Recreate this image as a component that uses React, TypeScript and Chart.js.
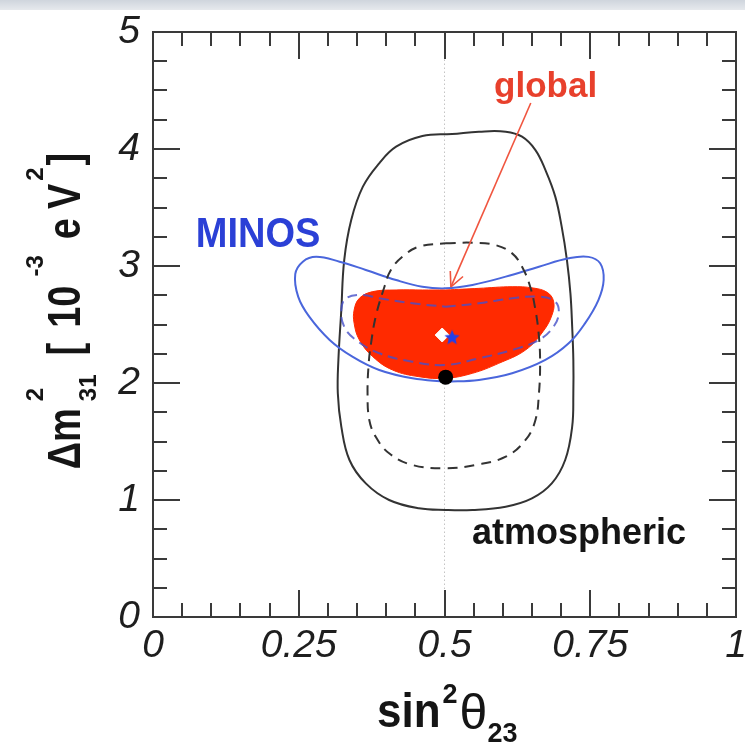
import { useEffect, useRef } from 'react';
import { Chart, registerables } from 'chart.js';

Chart.register(...registerables);

const FONT = '"Liberation Sans", Arial, Helvetica, sans-serif';

// ---- axis ticks ----
const xTickValues = [0, 0.25, 0.5, 0.75, 1];
const xTickLabels = ['0', '0.25', '0.5', '0.75', '1'];
const yTickValues = [0, 1, 2, 3, 4, 5];
const yTickLabels = ['0', '1', '2', '3', '4', '5'];
const xMinorTicks = [0.05, 0.1, 0.15, 0.2, 0.3, 0.35, 0.4, 0.45, 0.55, 0.6, 0.65, 0.7, 0.8, 0.85, 0.9, 0.95];
const yMinorTicks = [0.25, 0.5, 0.75, 1.25, 1.5, 1.75, 2.25, 2.5, 2.75, 3.25, 3.5, 3.75, 4.25, 4.5, 4.75];

// ---- contours (sin^2 theta23, dm2_31 [1e-3 eV^2]) ----
const atmosphericOuter = [
  [0.323, 2.624], [0.328, 3.051], [0.340, 3.393], [0.360, 3.678], [0.388, 3.878], [0.417, 4.020],
  [0.462, 4.111], [0.513, 4.128], [0.559, 4.148], [0.605, 4.148], [0.633, 4.105], [0.656, 3.991],
  [0.673, 3.821], [0.690, 3.593], [0.701, 3.336], [0.710, 3.051], [0.716, 2.766], [0.719, 2.481],
  [0.721, 2.197], [0.721, 1.912], [0.719, 1.627], [0.707, 1.342], [0.684, 1.142], [0.650, 1.014],
  [0.605, 0.943], [0.548, 0.915], [0.502, 0.915], [0.456, 0.929], [0.405, 1.000], [0.365, 1.142],
  [0.337, 1.342], [0.323, 1.627], [0.317, 1.912], [0.318, 2.197], [0.323, 2.624],
];
const atmosphericInner = [
  [0.502, 3.194], [0.548, 3.199], [0.587, 3.179], [0.616, 3.108], [0.633, 2.994], [0.647, 2.823],
  [0.656, 2.624], [0.662, 2.396], [0.664, 2.168], [0.662, 1.912], [0.656, 1.684], [0.639, 1.513],
  [0.605, 1.370], [0.553, 1.299], [0.502, 1.271], [0.445, 1.299], [0.405, 1.399], [0.382, 1.541],
  [0.371, 1.684], [0.368, 1.912], [0.370, 2.168], [0.374, 2.339], [0.382, 2.567], [0.397, 2.823],
  [0.408, 2.966], [0.428, 3.080], [0.456, 3.165], [0.502, 3.194],
];
const minosOuter = [
  [0.502, 2.011], [0.445, 2.040], [0.388, 2.111], [0.342, 2.225], [0.303, 2.368], [0.268, 2.567],
  [0.249, 2.738], [0.244, 2.930], [0.257, 3.037], [0.280, 3.078], [0.320, 3.037], [0.365, 2.966],
  [0.417, 2.880], [0.462, 2.823], [0.502, 2.809], [0.548, 2.838], [0.605, 2.909], [0.662, 2.994],
  [0.713, 3.066], [0.747, 3.078], [0.767, 3.023], [0.773, 2.880], [0.764, 2.709], [0.741, 2.510],
  [0.713, 2.339], [0.673, 2.197], [0.616, 2.083], [0.559, 2.026], [0.502, 2.011],
];
const minosInner = [
  [0.502, 2.652], [0.559, 2.681], [0.616, 2.724], [0.662, 2.738], [0.690, 2.695], [0.696, 2.596],
  [0.687, 2.481], [0.662, 2.368], [0.616, 2.282], [0.559, 2.211], [0.502, 2.154], [0.445, 2.182],
  [0.388, 2.254], [0.348, 2.368], [0.328, 2.481], [0.323, 2.624], [0.331, 2.724], [0.360, 2.752],
  [0.388, 2.724], [0.445, 2.681], [0.502, 2.652],
];
const globalRegion = [
  [0.502, 2.795], [0.559, 2.809], [0.616, 2.823], [0.652, 2.812], [0.676, 2.775], [0.687, 2.700],
  [0.685, 2.590], [0.669, 2.440], [0.639, 2.282], [0.593, 2.168], [0.548, 2.083], [0.502, 2.040],
  [0.456, 2.054], [0.411, 2.111], [0.377, 2.225], [0.354, 2.368], [0.345, 2.510], [0.345, 2.624],
  [0.354, 2.724], [0.377, 2.781], [0.417, 2.795], [0.462, 2.795], [0.502, 2.795],
];
const maximalMixingLine = [[0.5, 0], [0.5, 5]];
const arrowLine = [[0.648, 4.393], [0.511, 2.821]];
const atmBestFit = [[0.502, 2.05]];
const globalBestFit = [[0.496, 2.41]];
const minosBestFit = [[0.513, 2.39]];

const labelTexts = ['global', 'MINOS', 'atmospheric'];
const labelAnchors = [[0.585, 4.444], [0.0735, 3.165], [0.547, 0.624]];

const toPts = (a: number[][]) => a.map(([x, y]) => ({ x, y }));

function makeStar(size: number, color: string) {
  const c = document.createElement('canvas');
  c.width = size;
  c.height = size;
  const g = c.getContext('2d')!;
  const cx = size / 2, cy = size / 2 + 0.5, R = size / 2, r = R * 0.45;
  g.beginPath();
  for (let i = 0; i < 10; i++) {
    const rad = i % 2 === 0 ? R : r;
    const a = -Math.PI / 2 + (i * Math.PI) / 5;
    const px = cx + rad * Math.cos(a), py = cy + rad * Math.sin(a);
    if (i === 0) g.moveTo(px, py); else g.lineTo(px, py);
  }
  g.closePath();
  g.fillStyle = color;
  g.fill();
  return c;
}

type Seg = { t: string; font: string; dy: number; gap?: number; sy?: number; stackWith?: { t: string; font: string; dy: number } };

function drawRich(ctx: CanvasRenderingContext2D, segs: Seg[], center: boolean) {
  let total = 0;
  const widths: number[] = [];
  for (const s of segs) {
    ctx.font = s.font;
    let w = ctx.measureText(s.t).width;
    if (s.stackWith) {
      ctx.font = s.stackWith.font;
      w = Math.max(w, ctx.measureText(s.stackWith.t).width);
    }
    widths.push(w);
    total += w + (s.gap || 0);
  }
  let x = center ? -total / 2 : 0;
  segs.forEach((s, i) => {
    x += s.gap || 0;
    ctx.save();
    ctx.translate(x, s.dy);
    ctx.scale(1, s.sy || 1);
    ctx.font = s.font;
    ctx.fillText(s.t, 0, 0);
    ctx.restore();
    if (s.stackWith) {
      ctx.font = s.stackWith.font;
      ctx.fillText(s.stackWith.t, x, s.stackWith.dy);
    }
    x += widths[i];
  });
}

const framePlugin = {
  id: 'framePlugin',
  beforeDraw(chart: any) {
    const ctx = chart.ctx;
    ctx.save();
    const grad = ctx.createLinearGradient(0, 0, 0, 10);
    grad.addColorStop(0, '#cfd5dd');
    grad.addColorStop(1, '#e6e9ed');
    ctx.fillStyle = grad;
    ctx.fillRect(0, 0, chart.width, 10);
    ctx.restore();
  },
  afterDatasetsDraw(chart: any) {
    const meta = chart.getDatasetMeta(chart.data.datasets.findIndex((d: any) => d.label === 'arrow'));
    const p0 = meta.data[0], p1 = meta.data[1];
    const ctx = chart.ctx;
    const ang = Math.atan2(p1.y - p0.y, p1.x - p0.x);
    ctx.save();
    ctx.strokeStyle = '#f0553f';
    ctx.lineWidth = 1.6;
    ctx.beginPath();
    for (const s of [-0.45, 0.45]) {
      ctx.moveTo(p1.x, p1.y);
      ctx.lineTo(p1.x - 16 * Math.cos(ang + s), p1.y - 16 * Math.sin(ang + s));
    }
    ctx.stroke();
    ctx.restore();
  },
  afterDraw(chart: any) {
    const ctx = chart.ctx;
    const { left, right, top, bottom } = chart.chartArea;
    const xs = chart.scales.x, ys = chart.scales.y;
    ctx.save();
    ctx.strokeStyle = '#3a3a3a';
    ctx.lineWidth = 2;
    ctx.strokeRect(left, top, right - left, bottom - top);
    ctx.beginPath();
    const xt = (v: number, len: number) => {
      const p = Math.round(xs.getPixelForValue(v));
      ctx.moveTo(p, bottom); ctx.lineTo(p, bottom - len);
      ctx.moveTo(p, top); ctx.lineTo(p, top + len);
    };
    const yt = (v: number, len: number) => {
      const p = Math.round(ys.getPixelForValue(v));
      ctx.moveTo(left, p); ctx.lineTo(left + len, p);
      ctx.moveTo(right, p); ctx.lineTo(right - len, p);
    };
    xTickValues.forEach((v) => xt(v, 27));
    xMinorTicks.forEach((v) => xt(v, 14));
    yTickValues.forEach((v) => yt(v, 27));
    yMinorTicks.forEach((v) => yt(v, 14));
    ctx.stroke();

    // in-plot labels
    const colors = ['#e8402c', '#2b40d6', '#151515'];
    const sizes = [35, 38, 36];
    const stretch = [1, 1.1, 1];
    ctx.textBaseline = 'alphabetic';
    ctx.textAlign = 'left';
    labelTexts.forEach((t, i) => {
      ctx.save();
      ctx.fillStyle = colors[i];
      ctx.font = `bold ${sizes[i]}px ${FONT}`;
      ctx.translate(xs.getPixelForValue(labelAnchors[i][0]), ys.getPixelForValue(labelAnchors[i][1]));
      ctx.scale(1, stretch[i]);
      ctx.fillText(t, 0, 0);
      ctx.restore();
    });

    // x axis title: sin^2 theta_23
    ctx.fillStyle = '#151515';
    ctx.save();
    ctx.translate(377, 727);
    drawRich(ctx, [
      { t: 'sin', font: `bold 44px ${FONT}`, dy: 0, sy: 1.08 },
      { t: '2', font: `bold 27px ${FONT}`, dy: -24, gap: 2 },
      { t: 'θ', font: `normal 50px ${FONT}`, dy: 2, gap: 2 },
      { t: '23', font: `bold 27px ${FONT}`, dy: 15, gap: 0 },
    ], false);
    ctx.restore();

    // y axis title: Δm^2_31 [ 10^-3 eV^2]
    const main = `bold 38px ${FONT}`;
    const scr = `bold 24px ${FONT}`;
    ctx.save();
    ctx.translate(80, 311);
    ctx.rotate(-Math.PI / 2);
    drawRich(ctx, [
      { t: 'Δm', font: main, dy: 0, sy: 1.2 },
      { t: '2', font: scr, dy: -37, gap: 7, stackWith: { t: '31', font: scr, dy: 16 } },
      { t: '[', font: main, dy: 0, gap: 19, sy: 1.2 },
      { t: '10', font: main, dy: 0, gap: 15, sy: 1.2 },
      { t: '-3', font: scr, dy: -37, gap: 9 },
      { t: 'e', font: main, dy: 0, gap: 16, sy: 1.2 },
      { t: 'V', font: main, dy: 0, gap: 9, sy: 1.2 },
      { t: '2', font: scr, dy: -37, gap: 3 },
      { t: ']', font: main, dy: 0, gap: 2, sy: 1.2 },
    ], true);
    ctx.restore();
    ctx.restore();
  },
};

export default function App() {
  const ref = useRef<HTMLCanvasElement>(null);
  useEffect(() => {
    document.body.style.margin = '0';
    const canvas = ref.current!;
    const starBlue = makeStar(16, '#2340e8');
    const line = (label: string, pts: number[][], color: string, dash: number[] | undefined) => ({
      label,
      data: toPts(pts),
      showLine: true,
      borderColor: color,
      borderWidth: 2,
      borderDash: dash || [],
      pointRadius: 0,
      tension: 0.4,
      fill: false,
    });
    const layers: any[] = [
      { label: 'maxmix', data: toPts(maximalMixingLine), showLine: true, borderColor: '#c4c4c4', borderWidth: 1, borderDash: [1.5, 2.5], pointRadius: 0, fill: false },
      line('atm-outer', atmosphericOuter, '#333333', undefined),
      line('minos-outer', minosOuter, '#4a66dc', undefined),
      { label: 'global', data: toPts(globalRegion), showLine: true, borderColor: '#ff2a00', backgroundColor: '#ff2a00', borderWidth: 1, pointRadius: 0, tension: 0.4, fill: 'shape' },
      line('atm-inner', atmosphericInner, '#333333', [10, 7]),
      line('minos-inner', minosInner, 'rgba(70,80,200,0.8)', [10, 6]),
      { label: 'arrow', data: toPts(arrowLine), showLine: true, borderColor: '#f0553f', borderWidth: 1.6, pointRadius: 0, fill: false },
      { label: 'atm-bf', data: toPts(atmBestFit), showLine: false, pointRadius: 7.5, pointStyle: 'circle', backgroundColor: '#000', borderColor: '#000', borderWidth: 0 },
      { label: 'global-bf', data: toPts(globalBestFit), showLine: false, pointRadius: 7, pointStyle: 'rectRot', backgroundColor: '#ffffff', borderColor: '#ffffff', borderWidth: 1 },
      { label: 'minos-bf', data: toPts(minosBestFit), showLine: false, pointStyle: starBlue, pointRadius: 8 },
    ];
    const n = layers.length;
    layers.forEach((d, i) => { d.order = n - i; });

    const tickFont = { family: FONT, size: 39, style: 'italic' as const, weight: 'normal' as const };
    const chart = new Chart(canvas, {
      type: 'scatter',
      data: { datasets: layers },
      options: {
        animation: false,
        responsive: false,
        maintainAspectRatio: false,
        events: [],
        layout: { padding: { top: 32, right: 7, left: 0, bottom: 0 } },
        plugins: { legend: { display: false }, tooltip: { enabled: false } },
        scales: {
          x: {
            type: 'linear', min: 0, max: 1,
            grid: { display: false, drawTicks: false },
            border: { display: false },
            ticks: {
              stepSize: 0.25, autoSkip: false, maxRotation: 0, padding: 6, font: tickFont, color: '#1e1e1e',
              callback: (v: any) => { const i = xTickValues.findIndex((t) => Math.abs(t - Number(v)) < 1e-6); return i >= 0 ? xTickLabels[i] : ''; },
            },
            afterFit: (s: any) => { s.height = 128; s.paddingLeft = 0; s.paddingRight = 0; },
          },
          y: {
            type: 'linear', min: 0, max: 5,
            grid: { display: false, drawTicks: false },
            border: { display: false },
            ticks: {
              stepSize: 1, autoSkip: false, padding: 13, font: tickFont, color: '#1e1e1e',
              callback: (v: any) => { const i = yTickValues.findIndex((t) => Math.abs(t - Number(v)) < 1e-6); return i >= 0 ? yTickLabels[i] : ''; },
            },
            afterFit: (s: any) => { s.width = 153; s.paddingTop = 0; s.paddingBottom = 0; },
          },
        },
      },
      plugins: [framePlugin],
    });
    return () => chart.destroy();
  }, []);
  return <canvas ref={ref} width={745} height={745} style={{ display: 'block', width: 745, height: 745 }} />;
}
